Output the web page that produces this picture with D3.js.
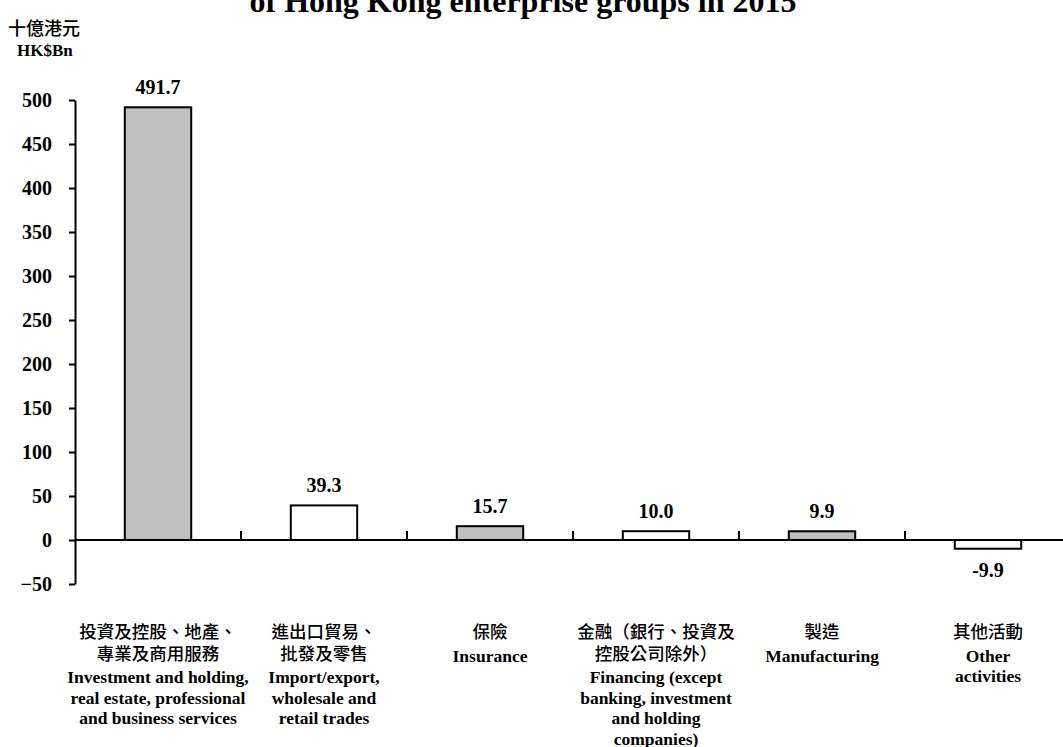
<!DOCTYPE html>
<html>
<head>
<meta charset="utf-8">
<script src="https://cdn.jsdelivr.net/npm/d3@7"></script>
<style>
  html, body { margin: 0; padding: 0; background: #fff; }
  svg { display: block; }
  .en { font-family: "Liberation Serif", "Times New Roman", serif; font-weight: bold; }
  .zh { font-family: "Noto Sans CJK TC", sans-serif; font-weight: 500; }
</style>
</head>
<body>
<svg id="chart" width="1063" height="747"></svg>
<script>
// value added by industry, HK$ billion
const categories = ["inv", "trade", "ins", "fin", "mfg", "other"];
const values = [491.7, 39.3, 15.7, 10.0, 9.9, -9.9];
const fills = ["#c0c0c0", "#ffffff", "#c0c0c0", "#ffffff", "#c0c0c0", "#ffffff"];
const zhLabels = [
  ["投資及控股、地產、", "專業及商用服務"],
  ["進出口貿易、", "批發及零售"],
  ["保險"],
  ["金融（銀行、投資及", "控股公司除外）"],
  ["製造"],
  ["其他活動"]
];
const enLabels = [
  ["Investment and holding,", "real estate, professional", "and business services"],
  ["Import/export,", "wholesale and", "retail trades"],
  ["Insurance"],
  ["Financing (except", "banking, investment", "and holding", "companies)"],
  ["Manufacturing"],
  ["Other", "activities"]
];
const yTicks = [-50, 0, 50, 100, 150, 200, 250, 300, 350, 400, 450, 500];

const svg = d3.select("#chart");

const x = d3.scaleBand().domain(categories).range([75, 1071])
  .paddingInner(0.6).paddingOuter(0.3);
const y = d3.scaleLinear().domain([-50, 500]).range([584, 100]);

// title (first line sits above the visible page)
svg.append("text").attr("class", "en")
  .attr("x", 523).attr("y", 12).attr("text-anchor", "middle")
  .attr("font-size", 32).attr("fill", "#000")
  .text("of Hong Kong enterprise groups in 2015");

// unit labels
svg.append("text").attr("class", "zh").attr("x", 8).attr("y", 35)
  .attr("font-size", 18).text("十億港元");
svg.append("text").attr("class", "en").attr("x", 17).attr("y", 56)
  .attr("font-size", 17).text("HK$Bn");

// bars
svg.append("g").selectAll("rect")
  .data(values)
  .join("rect")
  .attr("x", (d, i) => x(categories[i]))
  .attr("width", x.bandwidth())
  .attr("y", d => y(Math.max(0, d)))
  .attr("height", d => Math.abs(y(d) - y(0)))
  .attr("fill", (d, i) => fills[i])
  .attr("stroke", "#000")
  .attr("stroke-width", 2);

// y axis
const yAxis = svg.append("g")
  .attr("transform", "translate(75,0)")
  .call(d3.axisLeft(y).tickValues(yTicks).tickSize(6).tickPadding(17).tickSizeOuter(0));
yAxis.select(".domain").attr("stroke-width", 2);
yAxis.selectAll(".tick line").attr("stroke-width", 2);
yAxis.selectAll("text").attr("class", "en").attr("font-size", 20).attr("fill", "#000");

// zero line with category boundary ticks
svg.append("line")
  .attr("x1", 75).attr("x2", 1063)
  .attr("y1", y(0)).attr("y2", y(0))
  .attr("stroke", "#000").attr("stroke-width", 2);
svg.append("g").selectAll("line")
  .data(categories.slice(1))
  .join("line")
  .attr("x1", d => x(d) - x.step() * x.paddingInner() / 2)
  .attr("x2", d => x(d) - x.step() * x.paddingInner() / 2)
  .attr("y1", y(0)).attr("y2", y(0) - 9)
  .attr("stroke", "#000").attr("stroke-width", 2);

// value labels
svg.append("g").selectAll("text")
  .data(values)
  .join("text")
  .attr("class", "en")
  .attr("x", (d, i) => x(categories[i]) + x.bandwidth() / 2)
  .attr("y", d => d >= 0 ? y(d) - 13 : y(d) + 28)
  .attr("text-anchor", "middle")
  .attr("font-size", 20)
  .text(d => d.toFixed(1));

// category labels
const lab = svg.append("g").selectAll("g")
  .data(categories)
  .join("g")
  .attr("transform", d => `translate(${x(d) + x.bandwidth() / 2},0)`);
lab.each(function (d, i) {
  const g = d3.select(this);
  let yy = 638;
  zhLabels[i].forEach(t => {
    g.append("text").attr("class", "zh").attr("y", yy)
      .attr("text-anchor", "middle").attr("font-size", 17.5).text(t);
    yy += 21.5;
  });
  yy += 2;
  enLabels[i].forEach(t => {
    g.append("text").attr("class", "en").attr("y", yy)
      .attr("text-anchor", "middle").attr("font-size", 17.5).text(t);
    yy += 20.5;
  });
});
</script>
</body>
</html>
